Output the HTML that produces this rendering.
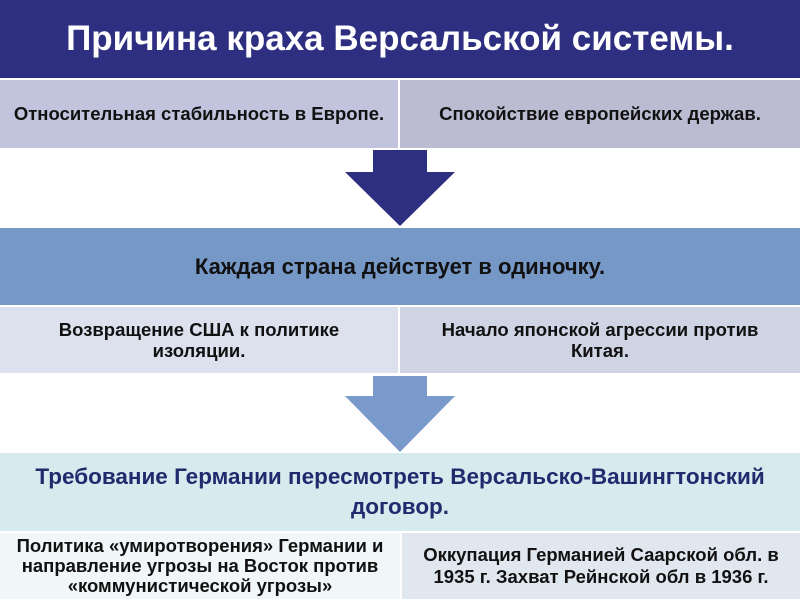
<!DOCTYPE html>
<html><head><meta charset="utf-8"><style>
body{margin:0;width:800px;height:600px;background:#fff;position:relative;overflow:hidden;font-family:"Liberation Sans",sans-serif;font-weight:bold}
.b{position:absolute;display:flex;align-items:center;justify-content:center;text-align:center;box-sizing:border-box}
</style></head><body>
<div class="b" style="left:0;top:0;width:800px;height:78px;background:#2e2f80;color:#fff;font-size:35px">Причина краха Версальской системы.</div>
<div class="b" style="left:0;top:80px;width:398px;height:68px;background:#c2c4de;font-size:18.5px;color:#111;white-space:nowrap">Относительная стабильность в Европе.</div>
<div class="b" style="left:400px;top:80px;width:400px;height:68px;background:#bbbcd2;font-size:18.5px;color:#111">Спокойствие европейских держав.</div>
<svg style="position:absolute;left:0;top:0" width="800" height="600">
<polygon points="373,150 427,150 427,172 455,172 400,226 345,172 373,172" fill="#2e2f80"/>
<polygon points="373,376 427,376 427,396 455,396 400,452 345,396 373,396" fill="#7a9acb"/>
</svg>
<div class="b" style="left:0;top:228px;width:800px;height:77px;background:#7698c7;font-size:22px;color:#111">Каждая страна действует в одиночку.</div>
<div class="b" style="left:0;top:307px;width:398px;height:66px;background:#dde1ee;font-size:18.5px;color:#111;padding:0 40px;line-height:21px">Возвращение США к политике изоляции.</div>
<div class="b" style="left:400px;top:307px;width:400px;height:66px;background:#cfd4e4;font-size:18.5px;color:#111;padding:0 30px;line-height:21px">Начало японской агрессии против Китая.</div>
<div class="b" style="left:0;top:453px;width:800px;height:78px;background:#d6ebee;font-size:22.5px;color:#222a6e;padding:0 10px;line-height:30px">Требование Германии пересмотреть Версальско-Вашингтонский договор.</div>
<div class="b" style="left:0;top:533px;width:400px;height:66px;background:#f1f6f8;font-size:18.5px;color:#111;line-height:20px;padding:0 4px;white-space:nowrap"><div>Политика «умиротворения» Германии и<br>направление угрозы на Восток против<br>«коммунистической угрозы»</div></div>
<div class="b" style="left:402px;top:533px;width:398px;height:66px;background:#e1e7ee;font-size:18.5px;color:#111;line-height:22px;padding:0 4px;white-space:nowrap"><div>Оккупация Германией Саарской обл. в<br>1935 г. Захват Рейнской обл в 1936 г.</div></div>
</body></html>
